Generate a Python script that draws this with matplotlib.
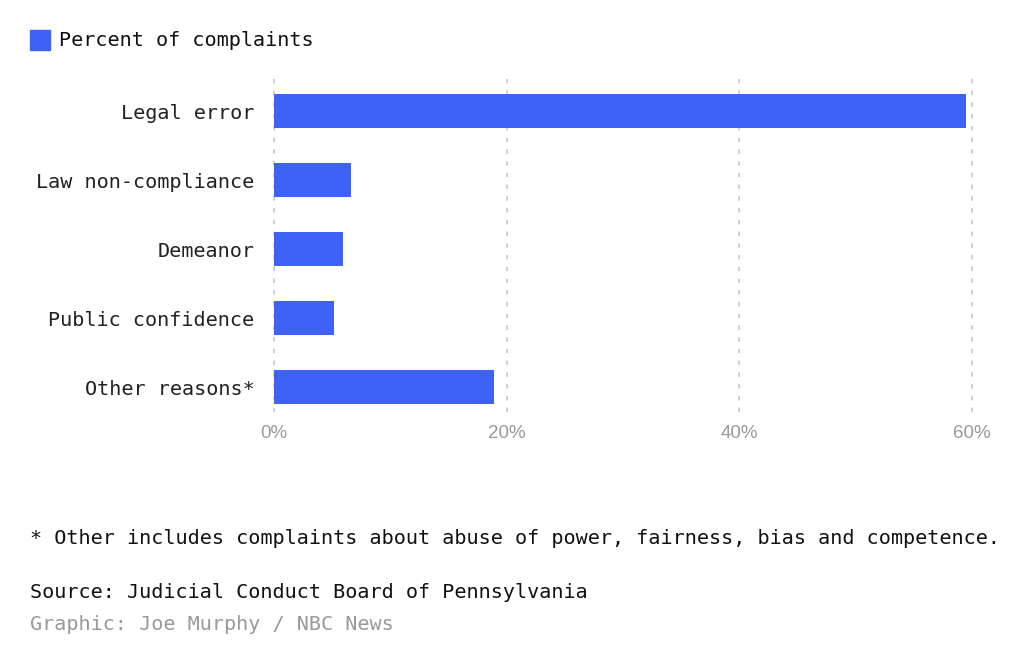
import matplotlib.pyplot as plt
from matplotlib.patches import Rectangle

categories = ['Legal error', 'Law non-compliance', 'Demeanor', 'Public confidence', 'Other reasons*']
values = [59.5, 6.6, 5.9, 5.2, 18.9]
ticks = [0, 20, 40, 60]
tick_labels = ['0%', '20%', '40%', '60%']

blue = '#3e62f6'
mono = 'DejaVu Sans Mono'
fs = 14.5

fig = plt.figure(figsize=(10.24, 6.6), dpi=100)
ax = fig.add_axes([274 / 1024, 1 - 412 / 660, 698 / 1024, 334 / 660])

y = list(range(len(categories)))
ax.barh(y, values, height=0.5, color=blue, zorder=3)
ax.set_xlim(0, 60)
ax.set_ylim(4.36, -0.48)

ax.set_yticks(y)
ax.set_yticklabels(categories, fontfamily=mono, fontsize=fs, color='#222222')
ax.set_xticks(ticks)
ax.set_xticklabels(tick_labels, fontsize=13.5, color='#999999', fontfamily='Liberation Sans')
ax.tick_params(axis='y', length=0, pad=14)
ax.tick_params(axis='x', length=0, pad=9)

# dotted gridlines, not clipped at the axes edges
for t in ticks:
    ax.axvline(t, color='#cccccc', linestyle=(0, (2.5, 4)), linewidth=1.3,
               zorder=0, clip_on=False)
for s in ax.spines.values():
    s.set_visible(False)

# legend
fig.patches.append(Rectangle((30 / 1024, 1 - 50 / 660), 20 / 1024, 20 / 660,
                             transform=fig.transFigure, color=blue, figure=fig))
fig.text(59 / 1024, 1 - 40 / 660, 'Percent of complaints', fontfamily=mono,
         fontsize=fs, color='#111111', va='center')

fig.text(30 / 1024, 1 - 538 / 660,
         '* Other includes complaints about abuse of power, fairness, bias and competence.',
         fontfamily=mono, fontsize=fs, color='#111111', va='center')
fig.text(30 / 1024, 1 - 592 / 660, 'Source: Judicial Conduct Board of Pennsylvania',
         fontfamily=mono, fontsize=fs, color='#111111', va='center')
fig.text(30 / 1024, 1 - 625 / 660, 'Graphic: Joe Murphy / NBC News',
         fontfamily=mono, fontsize=fs, color='#999999', va='center')

fig.savefig('out.png', dpi=100)
